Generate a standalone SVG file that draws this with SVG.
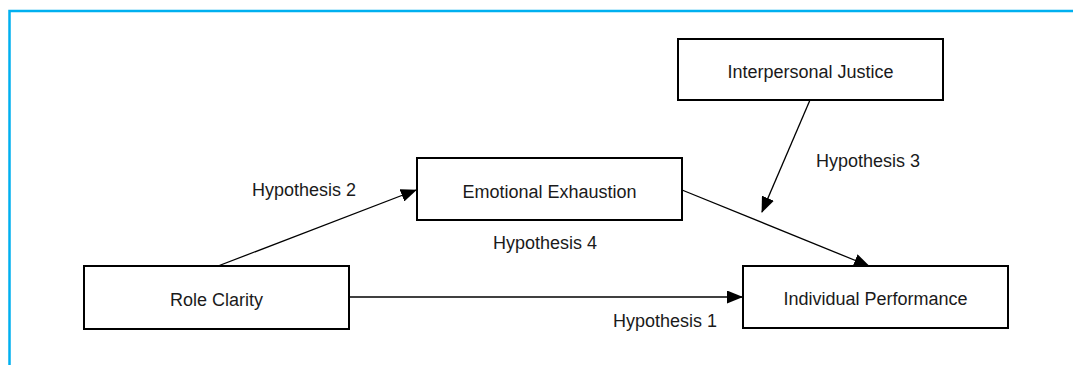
<svg xmlns="http://www.w3.org/2000/svg" width="1073" height="365" viewBox="0 0 1073 365">
  <defs>
    <style>
      .frame { stroke: #00b0f0; stroke-width: 2.5; fill: none; }
      .box { fill: #ffffff; stroke: #000000; stroke-width: 2; }
      .label { font-family: "Liberation Sans", Arial, sans-serif; font-size: 18px; fill: #1a1a1a; }
      .mid { text-anchor: middle; }
      .link { stroke: #000000; stroke-width: 1.3; fill: none; marker-end: url(#arrow); }
    </style>
    <marker id="arrow" markerUnits="userSpaceOnUse" markerWidth="16" markerHeight="13" refX="15" refY="6.5" orient="auto">
      <path d="M0,0 L16,6.5 L0,13 Z" fill="#000000"/>
    </marker>
  </defs>

  <rect width="1073" height="365" fill="#ffffff"/>

  <!-- page frame -->
  <path class="frame" d="M9.5,365 L9.5,11 L1073,11"/>

  <!-- connectors -->
  <g id="connectors">
    <path class="link" d="M218,266 L416,190"/>
    <path class="link" d="M349,297 L742,297"/>
    <path class="link" d="M682,190 L869,266"/>
    <path class="link" d="M810,100 L762,212"/>
    <text class="label" x="252" y="196">Hypothesis 2</text>
    <text class="label" x="493" y="249">Hypothesis 4</text>
    <text class="label" x="613" y="327">Hypothesis 1</text>
    <text class="label" x="816" y="167">Hypothesis 3</text>
  </g>

  <g id="node-role-clarity">
    <rect class="box" x="84" y="266" width="265" height="63"/>
    <text class="label mid" x="216.5" y="306">Role Clarity</text>
  </g>

  <g id="node-emotional-exhaustion">
    <rect class="box" x="417" y="158" width="265" height="62"/>
    <text class="label mid" x="549.5" y="198">Emotional Exhaustion</text>
  </g>

  <g id="node-interpersonal-justice">
    <rect class="box" x="678" y="39" width="265" height="61"/>
    <text class="label mid" x="810.5" y="78">Interpersonal Justice</text>
  </g>

  <g id="node-individual-performance">
    <rect class="box" x="743" y="266" width="265" height="62"/>
    <text class="label mid" x="875.5" y="305">Individual Performance</text>
  </g>
</svg>
